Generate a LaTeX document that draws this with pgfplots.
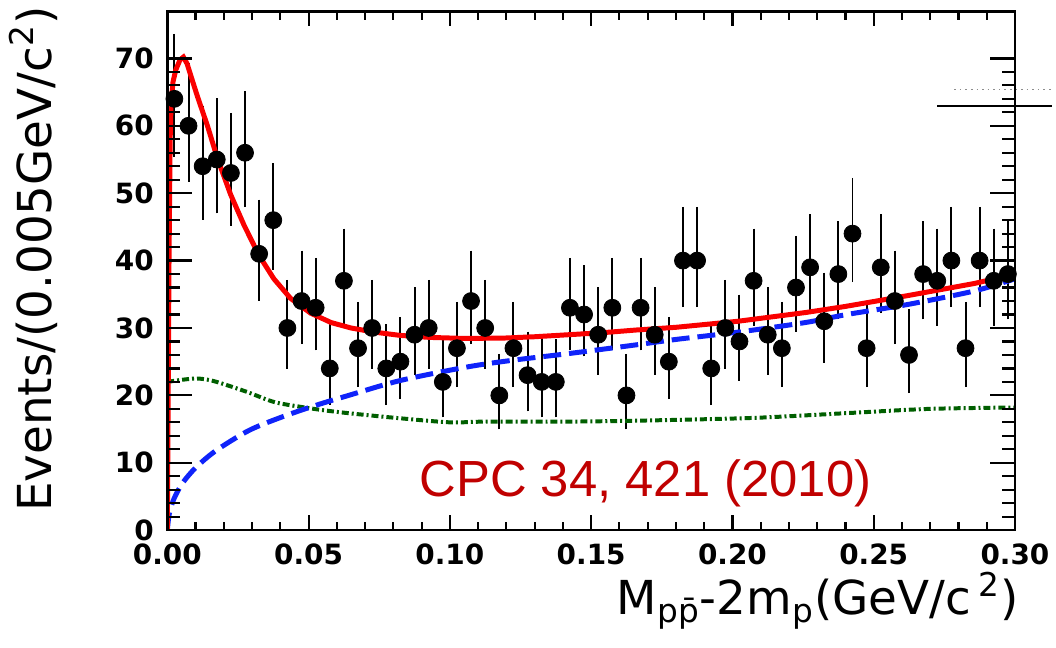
\documentclass[border=0pt]{standalone}
\usepackage{fontspec}
\setmainfont{DejaVu Sans}
\newfontfamily\lib{Liberation Sans}
\usepackage{pgfplots}
\pgfplotsset{compat=1.18}
\usepackage{pgfplotstable}
\definecolor{fitred}{RGB}{250,0,0}
\definecolor{bkgblue}{RGB}{15,35,250}
\definecolor{dgreen}{RGB}{0,95,0}
\definecolor{cpcred}{RGB}{192,0,0}

\pgfplotstableread{
x y ep em
0.0025 64 9.05 7.98
0.0075 60 8.79 7.73
0.0125 54 8.40 7.33
0.0175 55 8.47 7.40
0.0225 53 8.33 7.26
0.0275 56 8.53 7.47
0.0325 41 7.46 6.38
0.0375 46 7.84 6.78
0.0425 30 6.55 5.45
0.0475 34 6.89 5.81
0.0525 33 6.81 5.72
0.0575 24 5.97 4.87
0.0625 37 7.14 6.06
0.0675 27 6.27 5.17
0.0725 30 6.55 5.45
0.0775 24 5.97 4.87
0.0825 25 6.07 4.97
0.0875 29 6.45 5.36
0.0925 30 6.55 5.45
0.0975 22 5.77 4.66
0.1025 27 6.27 5.17
0.1075 34 6.89 5.81
0.1125 30 6.55 5.45
0.1175 20 5.56 4.44
0.1225 27 6.27 5.17
0.1275 23 5.87 4.77
0.1325 22 5.77 4.66
0.1375 22 5.77 4.66
0.1425 33 6.81 5.72
0.1475 32 6.72 5.63
0.1525 29 6.45 5.36
0.1575 33 6.81 5.72
0.1625 20 5.56 4.44
0.1675 33 6.81 5.72
0.1725 29 6.45 5.36
0.1775 25 6.07 4.97
0.1825 40 7.38 6.30
0.1875 40 7.38 6.30
0.1925 24 5.97 4.87
0.1975 30 6.55 5.45
0.2025 28 6.36 5.27
0.2075 37 7.14 6.06
0.2125 29 6.45 5.36
0.2175 27 6.27 5.17
0.2225 36 7.06 5.98
0.2275 39 7.30 6.22
0.2325 31 6.63 5.55
0.2375 38 7.23 6.14
0.2425 44 7.69 6.61
0.2475 27 6.27 5.17
0.2525 39 7.30 6.22
0.2575 34 6.89 5.81
0.2625 26 6.17 5.07
0.2675 38 7.23 6.14
0.2725 37 7.14 6.06
0.2775 40 7.38 6.30
0.2825 27 6.27 5.17
0.2875 40 7.38 6.30
0.2925 37 7.14 6.06
0.2975 38 7.23 6.14
}\data

\begin{document}
\begin{tikzpicture}
\pgfplotsset{common/.style={width=425.5pt,height=260.5pt,scale only axis,
  xmin=0,xmax=0.30,ymin=0,ymax=77,
  every tick/.style={draw=black,line width=1.1pt},
  /pgf/number format/assume math mode=true}}
\begin{axis}[common, name=ax,
  ytick=\empty,
  xtick={0,0.05,0.10,0.15,0.20,0.25,0.30},
  xticklabels={0.00,0.05,0.10,0.15,0.20,0.25,0.30},
  minor x tick num=4,
  major tick length=7.5pt, minor tick length=4.25pt,
  xticklabel style={font=\fontsize{14}{16}\selectfont\bfseries, yshift=-3.3pt},
  xlabel={M\textsubscript{p\={p}}-2m\textsubscript{p}(GeV/c\,\textsuperscript{2})},
  every axis x label/.style={at={(axis description cs:1.005,-0.163)}, anchor=base east, inner sep=0pt, font=\fontsize{23.5}{27}\selectfont},
  ylabel={Events/(0.005GeV/c\textsuperscript{2})},
  every axis y label/.style={at={(axis description cs:-0.1363,0.522)}, rotate=90, anchor=base, font=\fontsize{23.5}{28}\selectfont},
]
\addplot[only marks, mark=*, mark size=4.25pt, black,
  error bars/.cd, y dir=both, y explicit,
  error bar style={line width=1pt},
  error mark options={line width=1pt, mark size=2pt}]
  table[x=x, y=y, y error plus=ep, y error minus=em] {\data};
\addplot[dgreen, line width=2pt, smooth, dash pattern=on 3.5pt off 1.5pt on 1pt off 1.5pt] coordinates {
(0,22.0) (0.005,22.3) (0.0106,22.5) (0.0166,22.1) (0.0283,20.5) (0.035,19.4) (0.040,18.8) (0.0518,18.0) (0.059,17.6) (0.0677,17.2) (0.0824,16.6) (0.100,16.0) (0.112,16.1) (0.139,16.1) (0.16,16.2) (0.184,16.4) (0.21,16.7) (0.242,17.4) (0.27,18.0) (0.30,18.2)};
\addplot[bkgblue, line width=2.5pt, smooth, dash pattern=on 9pt off 4pt] coordinates {
(0,0) (0.0005,2) (0.001,3) (0.0025,4.8) (0.0054,7.0) (0.0101,9.3) (0.0172,11.8) (0.0289,14.8) (0.0406,16.8) (0.0524,18.5) (0.0642,20.0) (0.0824,22.2) (0.1059,24.2) (0.122,25.2) (0.142,26.2) (0.166,27.5) (0.18,28.3) (0.2022,29.4) (0.2257,30.8) (0.2405,32.0) (0.2622,33.5) (0.2857,35.5) (0.30,37.3)};
\addplot[fitred, line width=2.5pt] coordinates {
(0,0) (0.0003,20) (0.0006,40) (0.001,58) (0.0013,63) (0.002,66.5) (0.003,68.3) (0.0045,69.8) (0.0057,70.2) (0.007,69.2) (0.0085,67.2) (0.0107,64.3) (0.0142,60) (0.0177,55.2) (0.0224,49.8) (0.0271,45.3) (0.0324,40.8) (0.0377,37.3) (0.0436,34.4) (0.0507,32.2) (0.058,30.8) (0.065,30.0) (0.073,29.4) (0.0824,28.9) (0.093,28.6) (0.105,28.45) (0.119,28.5) (0.13,28.7) (0.142,29.0) (0.154,29.3) (0.166,29.7) (0.18,30.1) (0.202,31.0) (0.226,32.3) (0.24,33.2) (0.262,34.8) (0.2856,36.6) (0.30,38.0)};
\node[anchor=base, text=cpcred, font=\lib\fontsize{25.5}{30}\selectfont, inner sep=0pt] at (axis cs:0.1692,5.0) {CPC 34, 421 (2010)};
\end{axis}
\begin{axis}[common, clip=false,
  xtick=\empty,
  ytick={0,10,20,30,40,50,60,70},
  yticklabels={0,10,20,30,40,50,60,70},
  minor y tick num=4,
  major tick length=12.5pt, minor tick length=6.5pt,
  yticklabel style={font=\fontsize{14}{16}\selectfont\bfseries, xshift=-3.3pt},
]
\draw[black, line width=1.3pt] (rel axis cs:0,0) rectangle (rel axis cs:1,1);
\draw[black, line width=1pt] (axis cs:0.2725,62.9) -- (axis cs:0.3130,62.9);
\draw[black!45, line width=0.8pt, dotted] (axis cs:0.2785,65.4) -- (axis cs:0.3130,65.4);
\end{axis}
\path ([xshift=-84pt,yshift=-59pt]ax.south west) rectangle ([xshift=18.5pt,yshift=3pt]ax.north east);
\end{tikzpicture}
\end{document}
